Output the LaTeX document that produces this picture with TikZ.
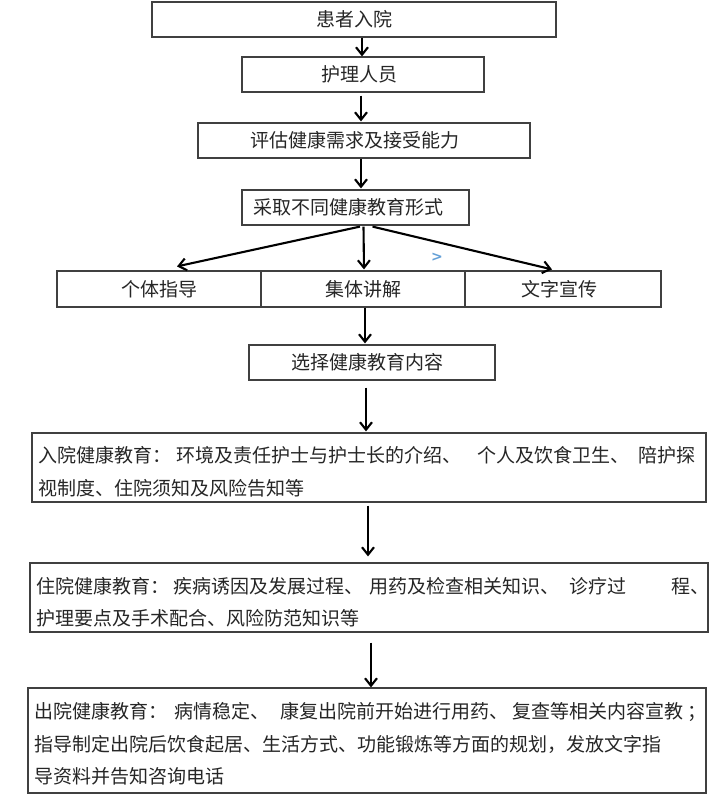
\documentclass[tikz,border=0pt]{standalone}
\usepackage{fontspec}
\newfontfamily\cjk{Noto Sans CJK SC}
\newfontfamily\dejavu{DejaVu Sans}
\usetikzlibrary{arrows.meta,calc}
\begin{document}
\begin{tikzpicture}[x=1pt,y=-1pt,
  box/.style={draw=black!75, line width=1.2pt, inner sep=0pt, font=\cjk\fontsize{19}{22}\selectfont, text=black!85},
  txt/.style={anchor=west, inner sep=0pt, font=\cjk\fontsize{19}{22}\selectfont, text=black!85},
  arr/.style={line width=2.1pt, -{Straight Barb[length=7.5pt,width=12pt,line width=2.1pt]}}]
\useasboundingbox[fill=white] (0,0) rectangle (720,795);

\node[box, minimum width=404pt, minimum height=35pt] (b1) at (354,19.5) {患者入院};
\node[box, minimum width=242pt, minimum height=35pt] (b2) at (363,74.5) {护理人员\hspace*{8pt}};
\node[box, minimum width=332pt, minimum height=35pt] (b3) at (364,140.5) {评估健康需求及接受能力\hspace*{18pt}};
\node[box, minimum width=227pt, minimum height=35pt] (b4) at (355.5,207.5) {采取不同健康教育形式\hspace*{15pt}};
\node[box, minimum width=204pt, minimum height=36pt] (r1) at (159,289) {个体指导};
\node[box, minimum width=204pt, minimum height=36pt] (r2) at (363,289) {集体讲解};
\node[box, minimum width=196pt, minimum height=36pt] (r3) at (563,289) {文字宣传\hspace*{8pt}};
\node[box, minimum width=246pt, minimum height=35pt] (b5) at (372,362.5) {选择健康教育内容\hspace*{10pt}};
\node[box, minimum width=674pt, minimum height=69pt] (b6) at (369,467.5) {};
\node[box, minimum width=678pt, minimum height=69pt] (b7) at (369,597.5) {};
\node[box, minimum width=678pt, minimum height=105pt] (b8) at (367,740.5) {};

\node[txt] (t6a) at (38,455) {入院健康教育：\hspace{5pt}环境及责任护士与护士长的介绍、\hspace{16pt}个人及饮食卫生、\hspace{9pt}陪护探};
\node[txt] (t6b) at (38,488) {视制度、住院须知及风险告知等};
\node[txt] (t7a) at (36,586) {住院健康教育：\hspace{4pt}疾病诱因及发展过程、\hspace{6pt}用药及检查相关知识、\hspace{10pt}诊疗过\hspace{45pt}程、};
\node[txt] (t7b) at (36,618) {护理要点及手术配合、风险防范知识等};
\node[txt] (t8a) at (34,712) {出院健康教育：\hspace{7pt}病情稳定、\hspace{11pt}康复出院前开始进行用药、\hspace{4pt}复查等相关内容宣教\hspace{4pt}；};
\node[txt] (t8b) at (34,744) {指导制定出院后饮食起居、生活方式、功能锻炼等方面的规划，发放文字指};
\node[txt] (t8c) at (34,776) {导资料并告知咨询电话};

\node[inner sep=0pt, text={rgb,255:red,100;green,160;blue,215}, font=\dejavu\bfseries\fontsize{14}{14}\selectfont] (gt) at (437,257) {>};

\draw[arr] ($(b1.south)+(8,0)$) -- ($(b2.north)+(-1,0)$);
\draw[arr, shorten <=3pt] ($(b2.south)+(-2,0)$) -- ($(b3.north)+(-3,-1)$);
\draw[arr] ($(b3.south)+(-3,0)$) -- ($(b4.north)+(5.5,-1)$);
\draw[arr] ($(b4.south)+(4.5,1)$) -- ($(r1.north)+(18,-4)$);
\draw[arr] ($(b4.south)+(8,1)$) -- ($(r2.north)+(1,-1)$);
\draw[arr] ($(b4.south)+(17,1)$) -- ($(r3.north)+(-11,-1)$);
\draw[arr] ($(r2.south)+(2,0)$) -- ($(b5.north)+(-7,-1)$);
\draw[arr, shorten <=7pt] ($(b5.south)+(-6,0)$) -- ($(b6.north)+(-3,-1)$);
\draw[arr, shorten <=3pt] ($(b6.south)+(-1,0)$) -- ($(b7.north)+(-1,-6)$);
\draw[arr, shorten <=10pt] ($(b7.south)+(2,0)$) -- ($(b8.north)+(4,0)$);
\end{tikzpicture}
\end{document}
